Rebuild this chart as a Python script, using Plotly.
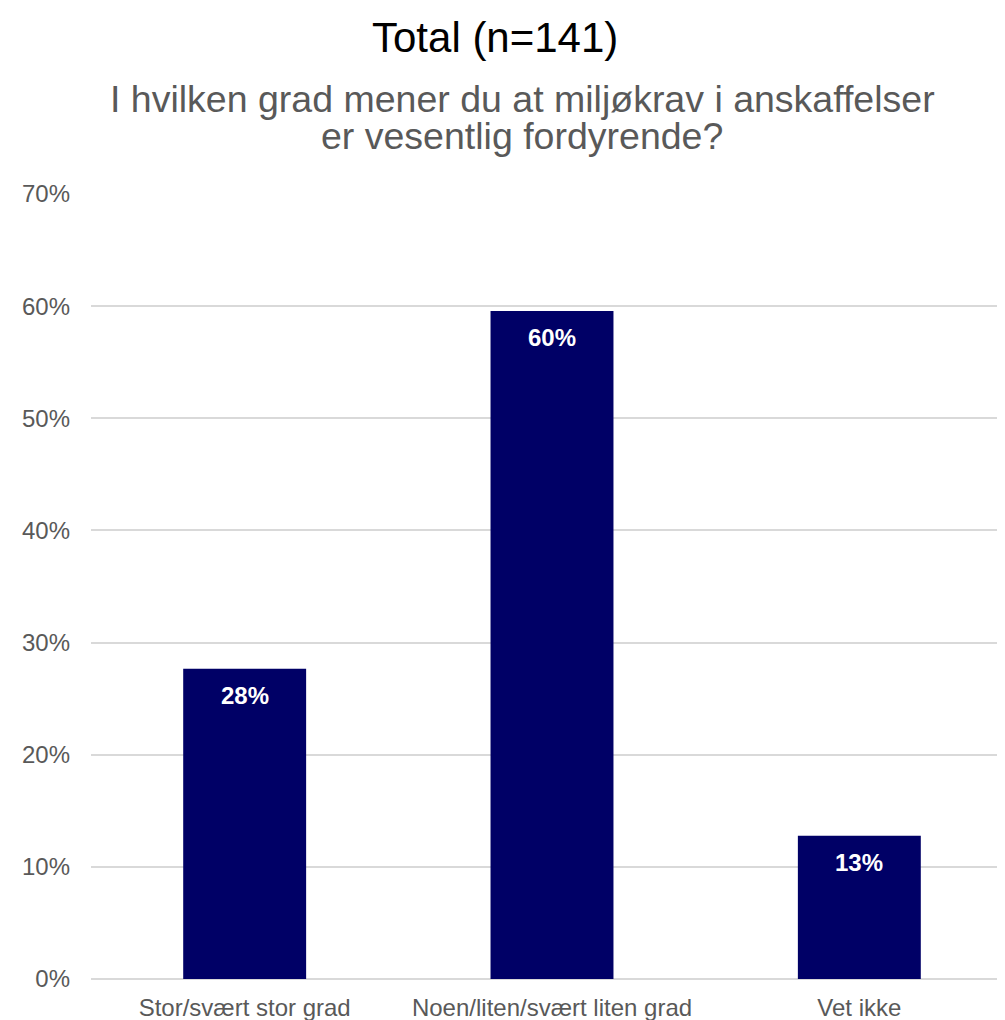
import plotly.graph_objects as go

categories = ["Stor/svært stor grad", "Noen/liten/svært liten grad", "Vet ikke"]
values = [27.66, 59.57, 12.77]
labels = ["28%", "60%", "13%"]
y_ticks = [0, 10, 20, 30, 40, 50, 60, 70]
y_tick_labels = [f"{t}%" for t in y_ticks]

title = "Total (n=141)"
subtitle_lines = ["I hvilken grad mener du at miljøkrav i anskaffelser",
                  "er vesentlig fordyrende?"]

FONT = "Liberation Sans, Arial, sans-serif"
GRAY = "#595959"
BAR = "#000066"

W, H = 1005, 1020
L, R, T, B = 83, 0, 186, 49

fig = go.Figure()
fig.add_trace(go.Bar(
    x=categories, y=values, width=0.4,
    marker=dict(color=BAR, line=dict(width=0)),
    hoverinfo="skip",
))

for c, v, t in zip(categories, values, labels):
    fig.add_annotation(x=c, y=v, xref="x", yref="y", text=f"<b>{t}</b>",
                       showarrow=False, yanchor="middle", yshift=-27,
                       font=dict(family=FONT, size=24, color="white"))

plot_w = W - L - R
plot_h = H - T - B
def px_x(px):
    # px is page pixel; figure is offset 8px by body margin
    return (px - 8 - L) / plot_w
def px_y(py):
    return (H - B - (py - 8)) / plot_h

fig.add_annotation(x=px_x(495), y=px_y(37), xref="paper", yref="paper",
                   text=title, showarrow=False, xanchor="center", yanchor="middle",
                   font=dict(family=FONT, size=42, color="black"))
for line, cy in zip(subtitle_lines, [99, 136]):
    fig.add_annotation(x=px_x(522), y=px_y(cy), xref="paper", yref="paper",
                       text=line, showarrow=False, xanchor="center", yanchor="middle",
                       font=dict(family=FONT, size=37.5, color=GRAY))

fig.update_layout(
    width=W, height=H,
    margin=dict(l=L, r=R, t=T, b=B, pad=0),
    paper_bgcolor="white", plot_bgcolor="white",
    showlegend=False,
    font=dict(family=FONT, color=GRAY, size=24),
    xaxis=dict(range=[-0.5, 2.5], showgrid=False, zeroline=False, showline=False,
               ticks="", ticklabelstandoff=12,
               tickfont=dict(size=24, color=GRAY), fixedrange=True),
    yaxis=dict(range=[0, 70], tickvals=y_ticks, ticktext=y_tick_labels,
               showgrid=True, gridcolor="#d9d9d9", gridwidth=1.5,
               zeroline=True, zerolinecolor="#d9d9d9", zerolinewidth=1.5,
               showline=False, ticks="", ticklabelstandoff=20,
               tickfont=dict(size=24, color=GRAY), fixedrange=True),
)

fig.write_html("out.html")
